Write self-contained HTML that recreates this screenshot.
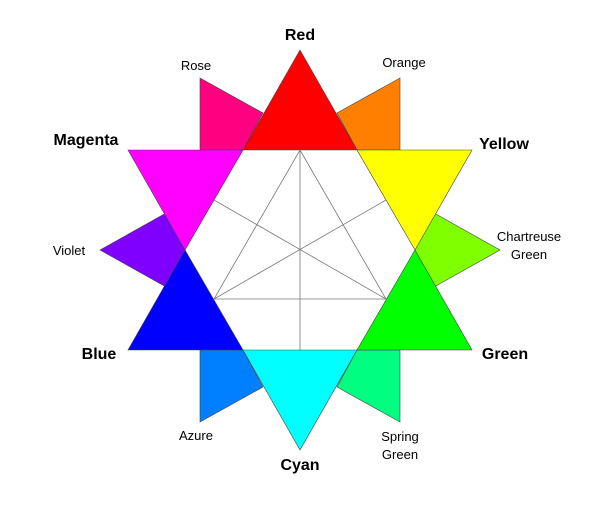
<!DOCTYPE html>
<html><head><style>body{margin:0;background:#fff}</style></head><body>
<svg width="600" height="500" xmlns="http://www.w3.org/2000/svg" font-family="Liberation Sans, sans-serif">
<g stroke="#444" stroke-width="0.6">
<polygon points="200,78 263,113 243,150 200,150" fill="#ff0080"/>
<polygon points="400,78 337,113 357,150 400,150" fill="#ff8000"/>
<polygon points="434,213 500,250 434,287 415,250" fill="#80ff00"/>
<polygon points="400,422 337,387 357,350 400,350" fill="#00ff80"/>
<polygon points="200,422 263,387 243,350 200,350" fill="#0080ff"/>
<polygon points="166,213 100,250 166,287 185,250" fill="#8000ff"/>
<polygon points="300,50 357,150 243,150" fill="#ff0000"/>
<polygon points="357,150 472,150 415,250" fill="#ffff00"/>
<polygon points="415,250 472,350 357,350" fill="#00ff00"/>
<polygon points="357,350 243,350 300,450" fill="#00ffff"/>
<polygon points="243,350 128,350 185,250" fill="#0000ff"/>
<polygon points="185,250 128,150 243,150" fill="#ff00ff"/>
</g>
<g stroke="#777" stroke-width="0.8" fill="none">
<polygon points="300,150 386,299 214,299"/>
<line x1="300" y1="150" x2="300" y2="350"/>
<line x1="214" y1="200" x2="386" y2="299"/>
<line x1="386" y1="200" x2="214" y2="299"/>
</g>
<g font-weight="bold" font-size="16" fill="#000">
<text x="300" y="40" text-anchor="middle">Red</text>
<text x="504" y="149" text-anchor="middle">Yellow</text>
<text x="505" y="359" text-anchor="middle">Green</text>
<text x="300" y="470" text-anchor="middle">Cyan</text>
<text x="99" y="359" text-anchor="middle">Blue</text>
<text x="86" y="145" text-anchor="middle">Magenta</text>
</g>
<g font-size="13" fill="#000" text-anchor="middle">
<text x="196" y="70">Rose</text>
<text x="404" y="67">Orange</text>
<text x="529" y="241">Chartreuse</text>
<text x="529" y="259">Green</text>
<text x="400" y="441">Spring</text>
<text x="400" y="459">Green</text>
<text x="196" y="440">Azure</text>
<text x="69" y="255">Violet</text>
</g>
</svg>
</body></html>
